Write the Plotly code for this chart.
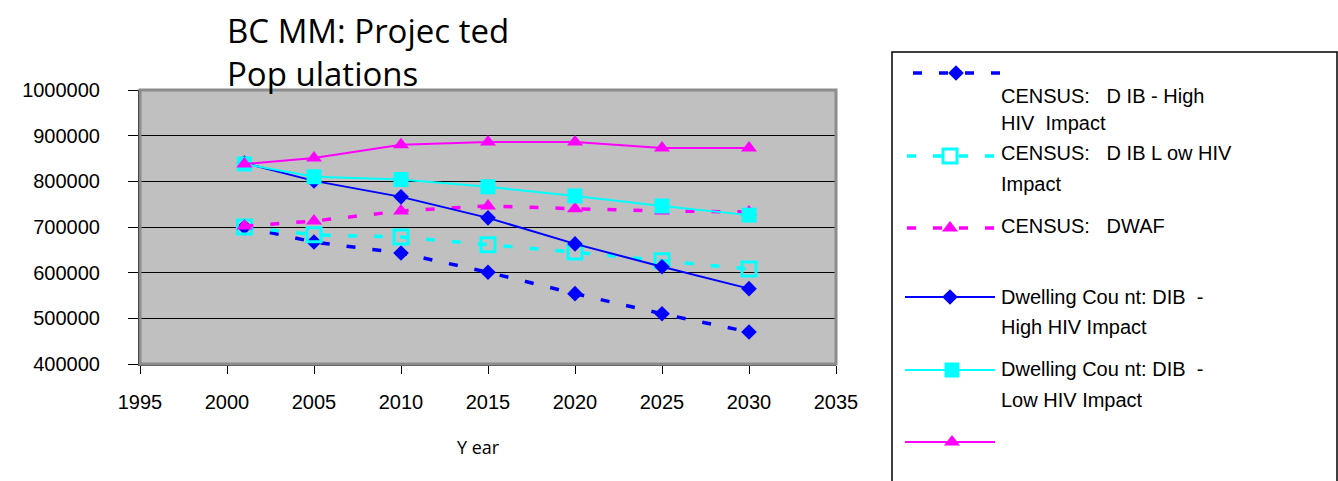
import plotly.graph_objects as go

# Projected populations by year (raw counts)
years = [2001, 2005, 2010, 2015, 2020, 2025, 2030]
census_dib_high = [700000, 667000, 643000, 601000, 554000, 510000, 470000]
census_dib_low = [700000, 683000, 678000, 661000, 645000, 626000, 608000]
census_dwaf = [702000, 713000, 735000, 746000, 740000, 735000, 733000]
dwelling_dib_high = [840000, 801000, 766000, 720000, 663000, 613000, 565000]
dwelling_dib_low = [838000, 810000, 804000, 788000, 768000, 746000, 726000]
dwelling_dwaf = [838000, 851000, 880000, 886000, 886000, 873000, 873000]

y_ticks = [400000, 500000, 600000, 700000, 800000, 900000, 1000000]
x_ticks = [1995, 2000, 2005, 2010, 2015, 2020, 2025, 2030, 2035]

W, H = 1338, 481
PL, PR, PT, PB = 140, 836, 90, 364  # plot area in pixels

BLUE, CYAN, MAGENTA = "#0000FF", "#00FFFF", "#FF00FF"
DASH = "9px,17px"
TICK_FONT = dict(family="Liberation Sans, Arial, sans-serif", size=20, color="black")
LEG_FONT = dict(family="Liberation Sans, Arial, sans-serif", size=20, color="black")
TITLE_FONT = dict(family="Open Sans, sans-serif", size=33, color="black")

series = [
    ("CENSUS: DIB - High HIV Impact", census_dib_high, BLUE, DASH, 3.5,
     dict(symbol="diamond", size=12, color=BLUE)),
    ("CENSUS: DIB Low HIV Impact", census_dib_low, CYAN, DASH, 3.5,
     dict(symbol="square-open", size=14, color=CYAN, line=dict(color=CYAN, width=3))),
    ("CENSUS: DWAF", census_dwaf, MAGENTA, DASH, 3.5,
     dict(symbol="triangle-up", size=14, color=MAGENTA)),
    ("Dwelling Count: DIB - High HIV Impact", dwelling_dib_high, BLUE, "solid", 2,
     dict(symbol="diamond", size=12, color=BLUE)),
    ("Dwelling Count: DIB - Low HIV Impact", dwelling_dib_low, CYAN, "solid", 2,
     dict(symbol="square", size=15, color=CYAN)),
    ("Dwelling Count: DWAF", dwelling_dwaf, MAGENTA, "solid", 2,
     dict(symbol="triangle-up", size=14, color=MAGENTA)),
]

fig = go.Figure()

for name, vals, color, dash, width, marker in series:
    fig.add_trace(go.Scatter(
        x=years, y=vals, name=name, mode="lines+markers",
        line=dict(color=color, dash=dash, width=width),
        marker=marker, showlegend=False, xaxis="x", yaxis="y",
    ))

# Hand-built legend keys on a full-page pixel overlay (x2/y2)
legend_keys = [
    (0, 913, 1002, 73, 956),
    (1, 907, 995, 156, 950),
    (2, 907, 995, 228, 950),
    (3, 905, 995, 297, 950),
    (4, 905, 995, 370, 952),
    (5, 905, 995, 442, 952),
]
for idx, x0, x1, yk, xm in legend_keys:
    _, _, color, dash, width, marker = series[idx]
    fig.add_trace(go.Scatter(
        x=[x0, x1], y=[yk, yk], mode="lines",
        line=dict(color=color, dash=dash, width=width),
        showlegend=False, hoverinfo="skip", xaxis="x2", yaxis="y2",
    ))
    fig.add_trace(go.Scatter(
        x=[xm], y=[yk], mode="markers", marker=marker,
        showlegend=False, hoverinfo="skip", xaxis="x2", yaxis="y2",
    ))

NB = "\u00a0"
legend_lines = [
    ("CENSUS:" + NB * 3 + "D IB - High", 96),
    ("HIV" + NB * 2 + "Impact", 123),
    ("CENSUS:" + NB * 3 + "D IB L ow" + NB + "HIV", 153),
    ("Impact", 184),
    ("CENSUS:" + NB * 3 + "DWAF", 226),
    ("Dwelling Cou nt: DIB" + NB * 2 + "-", 297),
    ("High HIV Impact", 327),
    ("Dwelling Cou nt: DIB" + NB * 2 + "-", 369),
    ("Low HIV Impact", 400),
]
annotations = []
for text, yc in legend_lines:
    annotations.append(dict(
        text=text, x=999, y=yc, xref="x2", yref="y2",
        xanchor="left", yanchor="middle", showarrow=False, font=LEG_FONT,
    ))

# Chart title (two lines) and x axis title
annotations.append(dict(text="BC MM:" + NB + "Projec" + NB + "ted", x=225, y=30,
                        xref="x2", yref="y2", xanchor="left", yanchor="middle",
                        showarrow=False, font=TITLE_FONT))
annotations.append(dict(text="Pop" + NB + "ulations", x=225, y=73,
                        xref="x2", yref="y2", xanchor="left", yanchor="middle",
                        showarrow=False, font=TITLE_FONT))
annotations.append(dict(text="Y ear", x=478, y=447, xref="x2", yref="y2",
                        xanchor="center", yanchor="middle", showarrow=False,
                        font=dict(family="Open Sans, sans-serif", size=18, color="black")))

shapes = [
    # grey plot background
    dict(type="rect", xref="x domain", yref="y domain", x0=0, x1=1, y0=0, y1=1,
         fillcolor="#C0C0C0", line=dict(width=0), layer="below"),
    # plot frame (top/right)
    dict(type="rect", xref="x domain", yref="y domain", x0=0, x1=1, y0=0, y1=1,
         fillcolor="rgba(0,0,0,0)", line=dict(color="#8C8C8C", width=3), layer="above"),
    # legend box
    dict(type="rect", xref="x2", yref="y2", x0=892, x1=1337, y0=52, y1=500,
         fillcolor="rgba(0,0,0,0)", line=dict(color="black", width=1.5)),
]

fig.update_layout(
    width=W, height=H,
    margin=dict(l=0, r=0, t=0, b=0),
    paper_bgcolor="white", plot_bgcolor="rgba(0,0,0,0)",
    showlegend=False,
    xaxis=dict(
        domain=[PL / W, PR / W], range=[1995, 2035], tickvals=x_ticks,
        showgrid=False, zeroline=False, showline=True, linecolor="#404040", linewidth=2,
        ticks="outside", ticklen=8, tickcolor="black", tickwidth=1,
        tickfont=TICK_FONT, ticklabelstandoff=11, automargin=False, anchor="y",
    ),
    yaxis=dict(
        domain=[(H - PB) / H, (H - PT) / H], range=[400000, 1000000], tickvals=y_ticks,
        tickformat="d", showgrid=True, gridcolor="black", gridwidth=1,
        zeroline=False, showline=True, linecolor="black", linewidth=2,
        ticks="outside", ticklen=10, tickcolor="black", tickwidth=1,
        tickfont=TICK_FONT, ticklabelstandoff=24, automargin=False, anchor="x",
    ),
    xaxis2=dict(domain=[0, 1], range=[0, W], visible=False, anchor="y2",
                fixedrange=True),
    yaxis2=dict(domain=[0, 1], range=[H, 0], visible=False, anchor="x2",
                fixedrange=True),
    annotations=annotations,
    shapes=shapes,
)

fig.write_html("out.html")
